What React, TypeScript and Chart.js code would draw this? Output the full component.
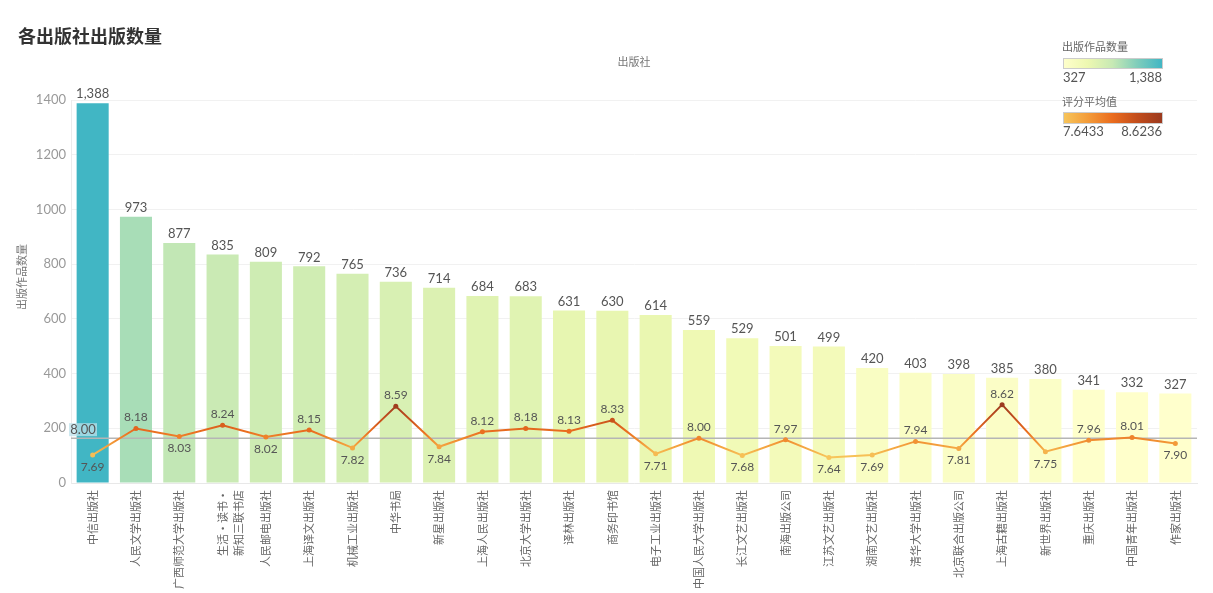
import React, { useEffect, useRef } from 'react';
import { Chart, registerables } from 'chart.js';

Chart.register(...registerables);

const publishers: (string | string[])[] = [
  '中信出版社', '人民文学出版社', '广西师范大学出版社', ['生活·读书·', '新知三联书店'], '人民邮电出版社',
  '上海译文出版社', '机械工业出版社', '中华书局', '新星出版社', '上海人民出版社',
  '北京大学出版社', '译林出版社', '商务印书馆', '电子工业出版社', '中国人民大学出版社',
  '长江文艺出版社', '南海出版公司', '江苏文艺出版社', '湖南文艺出版社', '清华大学出版社',
  '北京联合出版公司', '上海古籍出版社', '新世界出版社', '重庆出版社', '中国青年出版社', '作家出版社',
];
const bookCounts = [1388, 973, 877, 835, 809, 792, 765, 736, 714, 684, 683, 631, 630, 614, 559, 529, 501, 499, 420, 403, 398, 385, 380, 341, 332, 327];
const avgRatings = [7.69, 8.18, 8.03, 8.24, 8.02, 8.15, 7.82, 8.59, 7.84, 8.12, 8.18, 8.13, 8.33, 7.71, 8.0, 7.68, 7.97, 7.64, 7.69, 7.94, 7.81, 8.62, 7.75, 7.96, 8.01, 7.9];
const ratingLabelSide = ['below', 'above', 'below', 'above', 'below', 'above', 'below', 'above', 'below', 'above', 'above', 'above', 'above', 'below', 'above', 'below', 'above', 'below', 'below', 'above', 'below', 'above', 'below', 'above', 'above', 'below'];
const countTicks = [0, 200, 400, 600, 800, 1000, 1200, 1400];
const ratingLegendRange = [7.6433, 8.6236];

const countStops = ['#ffffcc', '#edf8b1', '#c7e9b4', '#7fcdbb', '#41b6c4'];
const ratingStops = ['#f7c65b', '#f39c3a', '#ea6c1e', '#c24d1c', '#9b3a1f'];

const FONT = "Lato, 'Noto Sans CJK SC', sans-serif";
const CJK = "'Noto Sans CJK SC', sans-serif";

function hex(h: string) {
  return [1, 3, 5].map((i) => parseInt(h.slice(i, i + 2), 16));
}
function lerpColor(stops: string[], t: number) {
  t = Math.max(0, Math.min(1, t));
  const seg = (stops.length - 1) * t;
  const i = Math.min(stops.length - 2, Math.floor(seg));
  const f = seg - i;
  const a = hex(stops[i]);
  const b = hex(stops[i + 1]);
  const c = a.map((v, k) => Math.round(v + (b[k] - v) * f));
  return `rgb(${c[0]},${c[1]},${c[2]})`;
}

const minCount = Math.min(...bookCounts);
const maxCount = Math.max(...bookCounts);
const countColor = (v: number) => lerpColor(countStops, (v - minCount) / (maxCount - minCount));
const ratingColor = (v: number) => lerpColor(ratingStops, (v - ratingLegendRange[0]) / (ratingLegendRange[1] - ratingLegendRange[0]));
const ratingAvg = avgRatings.reduce((a, b) => a + b, 0) / avgRatings.length;

export default function App() {
  const ref = useRef<HTMLCanvasElement>(null);

  useEffect(() => {
    document.body.style.margin = '0';
    const canvas = ref.current!;
    const decor = {
      id: 'decor',
      afterDatasetDraw(chart: any, args: any) {
        if (args.index !== 1) return;
        const { ctx, chartArea, scales } = chart;
        const y = scales.y1.getPixelForValue(ratingAvg);
        ctx.save();
        ctx.strokeStyle = '#b5b5b5';
        ctx.lineWidth = 1.5;
        ctx.beginPath();
        ctx.moveTo(chartArea.left, y);
        ctx.lineTo(chartArea.right, y);
        ctx.stroke();
        ctx.restore();
      },
      afterDraw(chart: any) {
        const { ctx, chartArea, scales } = chart;
        ctx.save();
        // title
        ctx.fillStyle = '#333';
        ctx.font = `bold 18px ${CJK}`;
        ctx.textAlign = 'left';
        ctx.textBaseline = 'middle';
        ctx.fillText('各出版社出版数量', 18, 36);
        // top axis title
        ctx.fillStyle = '#777';
        ctx.font = `11px ${CJK}`;
        ctx.textAlign = 'center';
        ctx.fillText('出版社', (chartArea.left + chartArea.right) / 2, 62);
        // y axis title
        ctx.save();
        ctx.translate(22, 277);
        ctx.rotate(-Math.PI / 2);
        ctx.fillText('出版作品数量', 0, 0);
        ctx.restore();

        // reference line label
        const ry = scales.y1.getPixelForValue(ratingAvg);
        ctx.fillStyle = 'rgba(190,225,235,0.75)';
        ctx.fillRect(chartArea.left - 2, ry - 15, 28, 13);
        ctx.fillStyle = '#555';
        ctx.font = `13px ${FONT}`;
        ctx.textAlign = 'center';
        ctx.fillText(ratingAvg.toFixed(2), chartArea.left + 12, ry - 8);

        // bar labels
        const barMeta = chart.getDatasetMeta(1);
        ctx.font = `13px ${FONT}`;
        ctx.fillStyle = '#555';
        barMeta.data.forEach((el: any, i: number) => {
          ctx.fillText(bookCounts[i].toLocaleString('en-US'), el.x, el.y - 9);
        });
        // line labels
        const lineMeta = chart.getDatasetMeta(0);
        ctx.font = `12px ${FONT}`;
        lineMeta.data.forEach((el: any, i: number) => {
          const dy = ratingLabelSide[i] === 'above' ? -11 : 12;
          ctx.fillText(avgRatings[i].toFixed(2), el.x, el.y + dy);
        });

        // legends
        const lx = 1063, lw = 99;
        ctx.textAlign = 'left';
        ctx.fillStyle = '#666';
        ctx.font = `11px ${CJK}`;
        ctx.fillText('出版作品数量', lx - 1, 47);
        let g = ctx.createLinearGradient(lx, 0, lx + lw, 0);
        countStops.forEach((c, i) => g.addColorStop(i / (countStops.length - 1), c));
        ctx.fillStyle = g;
        ctx.fillRect(lx, 58, lw, 10);
        ctx.strokeStyle = '#ccc';
        ctx.lineWidth = 1;
        ctx.strokeRect(lx + 0.5, 58.5, lw, 10);
        ctx.fillStyle = '#555';
        ctx.font = `13px ${FONT}`;
        ctx.fillText(minCount.toLocaleString('en-US'), lx, 78);
        ctx.textAlign = 'right';
        ctx.fillText(maxCount.toLocaleString('en-US'), lx + lw, 78);

        ctx.textAlign = 'left';
        ctx.fillStyle = '#666';
        ctx.font = `11px ${CJK}`;
        ctx.fillText('评分平均值', lx - 1, 102);
        g = ctx.createLinearGradient(lx, 0, lx + lw, 0);
        ratingStops.forEach((c, i) => g.addColorStop(i / (ratingStops.length - 1), c));
        ctx.fillStyle = g;
        ctx.fillRect(lx, 112, lw, 11);
        ctx.strokeStyle = '#ccc';
        ctx.strokeRect(lx + 0.5, 112.5, lw, 11);
        ctx.fillStyle = '#555';
        ctx.font = `13px ${FONT}`;
        ctx.fillText(ratingLegendRange[0].toFixed(4), lx, 132);
        ctx.textAlign = 'right';
        ctx.fillText(ratingLegendRange[1].toFixed(4), lx + lw, 132);
        ctx.restore();
      },
    };

    const chart = new Chart(canvas, {
      type: 'bar',
      data: {
        labels: publishers,
        datasets: [
          {
            type: 'line',
            label: '评分平均值',
            data: avgRatings,
            yAxisID: 'y1',
            order: 0,
            borderWidth: 2,
            tension: 0,
            pointRadius: 2.5,
            pointBorderWidth: 0,
            pointBackgroundColor: avgRatings.map(ratingColor),
            borderColor: (context: any) => {
              const { chart } = context;
              const { ctx, chartArea, scales } = chart;
              if (!chartArea || !scales.y1) return ratingStops[2];
              const y0 = scales.y1.getPixelForValue(ratingLegendRange[0]);
              const y1 = scales.y1.getPixelForValue(ratingLegendRange[1]);
              const g = ctx.createLinearGradient(0, y0, 0, y1);
              ratingStops.forEach((c, i) => g.addColorStop(i / (ratingStops.length - 1), c));
              return g;
            },
          } as any,
          {
            type: 'bar',
            label: '出版作品数量',
            data: bookCounts,
            yAxisID: 'y',
            order: 1,
            backgroundColor: bookCounts.map(countColor),
            barPercentage: 0.74,
            categoryPercentage: 1,
          },
        ],
      },
      options: {
        responsive: false,
        animation: false,
        layout: { padding: { left: 0, right: 16, top: 100, bottom: 0 } },
        plugins: { legend: { display: false }, tooltip: { enabled: false } },
        scales: {
          x: {
            grid: { display: false, drawTicks: false },
            border: { display: true, color: '#e8e8e8' },
            ticks: {
              autoSkip: false,
              minRotation: 90,
              maxRotation: 90,
              padding: 7,
              color: '#666',
              font: { size: 11, family: CJK, lineHeight: 1.45 },
            },
            afterFit: (s: any) => { s.height = 110; },
          },
          y: {
            min: 0,
            max: 1400,
            afterBuildTicks: (s: any) => { s.ticks = countTicks.map((v) => ({ value: v })); },
            grid: { color: '#f1f1f1', drawTicks: false },
            border: { display: true, color: '#ececec' },
            ticks: {
              padding: 5,
              color: '#999',
              font: { size: 13, family: FONT },
              callback: (v: any) => String(v),
            },
            afterFit: (s: any) => { s.width = 71; },
          },
          y1: {
            display: false,
            min: 7.17,
            max: 14.26,
          },
        },
      },
      plugins: [decor],
    });
    return () => chart.destroy();
  }, []);

  return (
    <div style={{ position: 'absolute', left: 0, top: 0, width: 1213, height: 593 }}>
      <canvas ref={ref} width={1213} height={593} style={{ display: 'block' }} />
    </div>
  );
}
